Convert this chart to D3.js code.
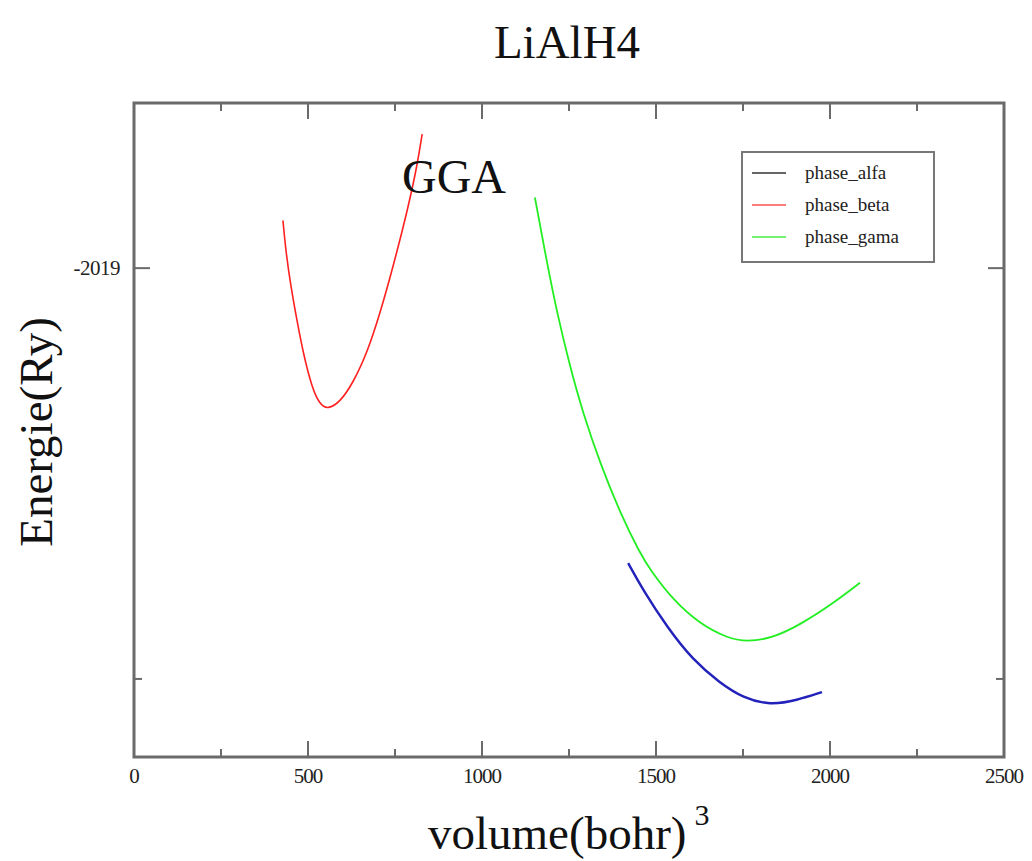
<!DOCTYPE html>
<html><head><meta charset="utf-8">
<script src="https://cdn.jsdelivr.net/npm/d3@7"></script>
<style>body{margin:0;background:#fff}svg{display:block}text{font-family:"Liberation Serif","DejaVu Serif",serif}</style>
</head><body>
<svg id="c" width="1032" height="861"></svg>
<script>
// Data (volume in bohr^3, energy in Ry)
const alfaV = [1420,1463,1532,1606,1684,1750,1828,1905,1977];
const alfaE = [-2019.0359,-2019.0392,-2019.0437,-2019.0477,-2019.0505,-2019.0523,-2019.0532,-2019.0526,-2019.0516];
const betaV = [428,437,451,468,486,511,534,557,592,629,670,707,744,784,813,828];
const betaE = [-2018.9942,-2018.9982,-2019.0023,-2019.0063,-2019.0103,-2019.0145,-2019.0166,-2019.0172,-2019.0163,-2019.0140,-2019.0103,-2019.0055,-2018.9999,-2018.9933,-2018.9877,-2018.9837];
const gamaV = [1152,1187,1216,1253,1290,1339,1397,1454,1483,1549,1626,1704,1761,1836,1914,2009,2086];
const gamaE = [-2018.9914,-2018.9994,-2019.0055,-2019.0120,-2019.0176,-2019.0237,-2019.0298,-2019.0347,-2019.0367,-2019.0404,-2019.0433,-2019.0450,-2019.0455,-2019.0450,-2019.0434,-2019.0408,-2019.0383];
const xMajor = [0,500,1000,1500,2000,2500];
const xMinor = [250,750,1250,1750,2250];
const yMajor = [-2019];
const yMinor = [-2019.05];
const yTickLabels = ["-2019"];
const seriesNames = ["phase_alfa","phase_beta","phase_gama"];
const lineColors = ["#2222bb","#ff2020","#22ee22"];
const legendColors = ["#333333","#ff5050","#44ee44"];

const svg = d3.select("#c");
const L=134, R=1004, T=103, B=757;
const x = d3.scaleLinear().domain([0,2500]).range([L,R]);
const y = d3.scaleLinear().domain([-2019.0595,-2018.9799]).range([B,T]);

const line = d3.line().x(d=>x(d[0])).y(d=>y(d[1])).curve(d3.curveBasis);
const series = [
  d3.zip(alfaV, alfaE),
  d3.zip(betaV, betaE),
  d3.zip(gamaV, gamaE)
];
const widths=[2.4,1.6,1.8];
series.forEach((s,i)=>{
  svg.append("path").attr("d",line(s)).attr("fill","none")
    .attr("stroke",lineColors[i]).attr("stroke-width",widths[i]);
});

// frame
const fc="#6a6a6a";
svg.append("rect").attr("x",L).attr("y",T).attr("width",R-L).attr("height",B-T)
  .attr("fill","none").attr("stroke",fc).attr("stroke-width",3);

// ticks
const tg = svg.append("g").attr("stroke",fc).attr("stroke-width",2);
xMajor.forEach(v=>{
  tg.append("line").attr("x1",x(v)).attr("x2",x(v)).attr("y1",B).attr("y2",B-16);
  tg.append("line").attr("x1",x(v)).attr("x2",x(v)).attr("y1",T).attr("y2",T+16);
});
xMinor.forEach(v=>{
  tg.append("line").attr("x1",x(v)).attr("x2",x(v)).attr("y1",B).attr("y2",B-8);
  tg.append("line").attr("x1",x(v)).attr("x2",x(v)).attr("y1",T).attr("y2",T+8);
});
yMajor.forEach(v=>{
  tg.append("line").attr("x1",L).attr("x2",L+16).attr("y1",y(v)).attr("y2",y(v));
  tg.append("line").attr("x1",R).attr("x2",R-16).attr("y1",y(v)).attr("y2",y(v));
});
yMinor.forEach(v=>{
  tg.append("line").attr("x1",L).attr("x2",L+8).attr("y1",y(v)).attr("y2",y(v));
  tg.append("line").attr("x1",R).attr("x2",R-8).attr("y1",y(v)).attr("y2",y(v));
});

// tick labels
xMajor.forEach(v=>{
  svg.append("text").attr("x",x(v)).attr("y",B+26).attr("text-anchor","middle")
    .attr("font-size",21).attr("letter-spacing",-1).attr("fill","#222").text(d3.format("d")(v));
});
yMajor.forEach((v,i)=>{
  svg.append("text").attr("x",L-14).attr("y",y(v)+7).attr("text-anchor","end")
    .attr("font-size",21).attr("letter-spacing",-0.5).attr("fill","#222").text(yTickLabels[i]);
});

// titles
svg.append("text").attr("x",567).attr("y",58).attr("text-anchor","middle")
  .attr("font-size",47).attr("fill","#111").text("LiAlH4");
svg.append("text").attr("x",454).attr("y",193).attr("text-anchor","middle")
  .attr("font-size",48).attr("fill","#111").text("GGA");
const xl = svg.append("text").attr("x",428).attr("y",849).attr("text-anchor","start")
  .attr("font-size",47).attr("fill","#111");
xl.append("tspan").text("volume(bohr)");
xl.append("tspan").attr("font-size",30).attr("dx",8).attr("dy",-24).text("3");
svg.append("text").attr("transform","translate(52,432) rotate(-90)").attr("text-anchor","middle")
  .attr("font-size",47).attr("fill","#111").text("Energie(Ry)");

// legend
const lg = svg.append("g");
lg.append("rect").attr("x",742).attr("y",152).attr("width",192).attr("height",110)
  .attr("fill","#fff").attr("stroke","#777").attr("stroke-width",2);
seriesNames.forEach((n,i)=>{
  const yy = 173+i*32;
  lg.append("line").attr("x1",752).attr("x2",786).attr("y1",yy).attr("y2",yy)
    .attr("stroke",legendColors[i]).attr("stroke-width",1.6);
  lg.append("text").attr("x",805).attr("y",yy+6).attr("font-size",19).attr("fill","#222").text(n);
});
</script>
</body></html>
